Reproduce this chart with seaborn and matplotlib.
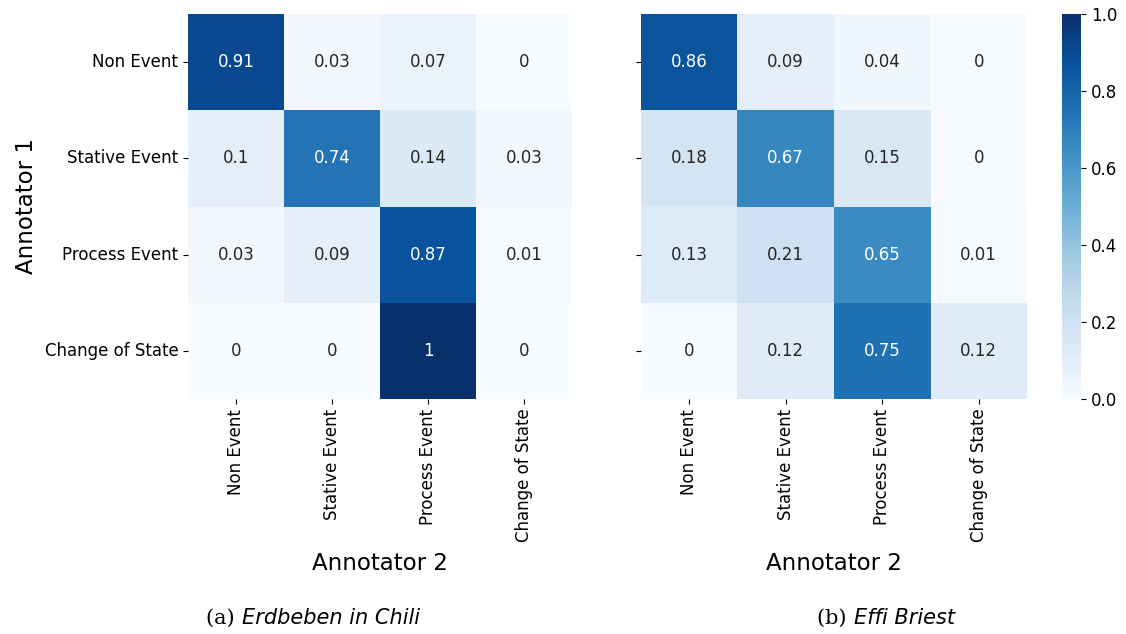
import matplotlib
matplotlib.use("Agg")
import matplotlib.pyplot as plt
import numpy as np
import pandas as pd
import seaborn as sns

categories = ["Non Event", "Stative Event", "Process Event", "Change of State"]

erdbeben_values = [
    [0.91, 0.03, 0.07, 0],
    [0.1, 0.74, 0.14, 0.03],
    [0.03, 0.09, 0.87, 0.01],
    [0, 0, 1, 0],
]

effi_values = [
    [0.86, 0.09, 0.04, 0],
    [0.18, 0.67, 0.15, 0],
    [0.13, 0.21, 0.65, 0.01],
    [0, 0.12, 0.75, 0.12],
]

captions = [("(a)", "Erdbeben in Chili"), ("(b)", "Effi Briest")]
x_label = "Annotator 2"
y_label = "Annotator 1"

plt.rcParams["font.family"] = "DejaVu Sans"

fig = plt.figure(figsize=(11.26, 6.34), dpi=100)
ax1 = fig.add_axes([188 / 1126, 1 - 399 / 634, 384 / 1126, 385 / 634])
ax2 = fig.add_axes([641 / 1126, 1 - 399 / 634, 386 / 1126, 385 / 634])
cax = fig.add_axes([1062 / 1126, 1 - 399 / 634, 19 / 1126, 385 / 634])

df1 = pd.DataFrame(erdbeben_values, index=categories, columns=categories)
df2 = pd.DataFrame(effi_values, index=categories, columns=categories)

sns.heatmap(df1, ax=ax1, cmap="Blues", vmin=0, vmax=1, annot=True, fmt="g",
            annot_kws={"fontsize": 12}, cbar=False)
sns.heatmap(df2, ax=ax2, cmap="Blues", vmin=0, vmax=1, annot=True, fmt="g",
            annot_kws={"fontsize": 12}, cbar_ax=cax)

for ax in (ax1, ax2):
    ax.set_xlabel(x_label, fontsize=16.5, labelpad=7)
    ax.tick_params(axis="x", labelsize=12, rotation=90)
    ax.tick_params(axis="y", labelsize=12, rotation=0)

ax1.set_ylabel(y_label, fontsize=16.5, labelpad=5)
ax2.set_ylabel("")
ax2.set_yticklabels([])

cax.tick_params(labelsize=12)
cax.set_yticks([0, 0.2, 0.4, 0.6, 0.8, 1.0])
cax.set_yticklabels(["0.0", "0.2", "0.4", "0.6", "0.8", "1.0"])

# subfigure captions: label in serif, title in italic sans
caption_centres = [313 / 1126, 886 / 1126]
caption_y = 1 - 624 / 634
for (tag, title), xc in zip(captions, caption_centres):
    fig.text(xc, caption_y, tag + " ", fontsize=15, family="DejaVu Serif",
             ha="left", va="baseline")
    fig.text(xc, caption_y, title, fontsize=15, family="DejaVu Sans",
             style="italic", ha="left", va="baseline")

fig.canvas.draw()
# centre each caption line on its column
renderer = fig.canvas.get_renderer()
texts = fig.texts
for i, xc in enumerate(caption_centres):
    a, b = texts[2 * i], texts[2 * i + 1]
    wa = a.get_window_extent(renderer).width / fig.bbox.width
    wb = b.get_window_extent(renderer).width / fig.bbox.width
    left = xc - (wa + wb) / 2
    a.set_x(left)
    b.set_x(left + wa)

fig.savefig("out.png", dpi=100)
